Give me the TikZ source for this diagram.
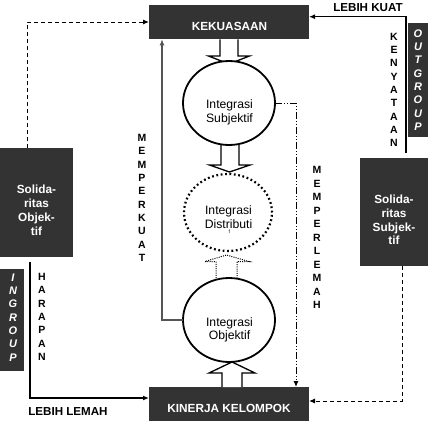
\documentclass[tikz,border=0pt]{standalone}
\usepackage{fontspec}
\setmainfont{Liberation Sans}
\usetikzlibrary{arrows.meta,calc,shapes.geometric}
\definecolor{boxgray}{HTML}{333333}
\definecolor{linegray}{HTML}{555555}
\begin{document}
\begin{tikzpicture}[x=1pt,y=-1pt,
  darkbox/.style={fill=boxgray, inner sep=0pt, outer sep=0pt},
  btext/.style={text=white, font=\fontsize{11.8}{13.7}\selectfont\bfseries, align=center, inner sep=0pt},
  ltext/.style={font=\fontsize{11.6}{13}\selectfont\bfseries, inner sep=0pt},
  vletters/.style={font=\fontsize{10.5}{13.33}\selectfont\bfseries, align=center, inner sep=0pt},
  gletters/.style={text=white, font=\fontsize{11}{13.33}\selectfont\bfseries\itshape, align=center, inner sep=0pt},
  ring/.style={ellipse, draw, line width=1.8pt, fill=white, inner sep=0pt, outer sep=0pt},
  ctext/.style={font=\fontsize{12.2}{13.5}\selectfont, align=center, inner sep=0pt},
  barrow/.style={draw, line width=1.3pt, fill=white, line join=miter},
  dbarrow/.style={draw, line width=1pt, dash pattern=on 1pt off 1.2pt, fill=white},
  conn/.style={line width=1.3pt, -{Latex[length=6pt,width=5pt]}},
  dconn/.style={conn, line width=1pt, dash pattern=on 4pt off 3pt},
  ddconn/.style={conn, line width=1pt, dash pattern=on 7pt off 2pt on 1pt off 2pt on 1pt off 2pt}
]
\fill[white] (0,0) rectangle (429,429);
\useasboundingbox (0,0) rectangle (429,429);

% dark boxes
\node[darkbox, minimum width=160pt, minimum height=34.6pt] (kek) at (229,22) {};
\node[darkbox, minimum width=160pt, minimum height=34pt] (kin) at (229,404) {};
\node[darkbox, minimum width=73pt, minimum height=109pt] (sobj) at (36.5,202.5) {};
\node[darkbox, minimum width=68pt, minimum height=108pt] (ssub) at (394,212) {};
\node[darkbox, minimum width=24pt, minimum height=102pt] (ing) at (12,320) {};
\node[darkbox, minimum width=20pt, minimum height=114pt] (outg) at (418,80) {};

\node[btext] (kekt) at (229.5,26) {KEKUASAAN};
\node[btext] (kint) at (229,408.5) {KINERJA KELOMPOK};
\node[btext] (sobjt) at (36.5,210.3) {Solida-\\ritas\\Objek-\\tif};
\node[btext] (ssubt) at (394,220) {Solida-\\ritas\\Subjek-\\tif};
\node[gletters] (ingt) at (13,317.3) {I\\N\\G\\R\\O\\U\\P};
\node[gletters] (outgt) at (418,80) {O\\U\\T\\G\\R\\O\\U\\P};

% circle positions (needed for block arrows)
\path (229,103) node[ring, draw=none, fill=none, minimum width=92pt, minimum height=84pt] (c1) {};
\path (228,212.5) node[ring, draw=none, fill=none, minimum width=88pt, minimum height=77pt] (c2) {};
\path (229,320) node[ring, draw=none, fill=none, minimum width=92pt, minimum height=84pt] (c3) {};

% block arrows
\draw[barrow] let \p1=(kek.south), \p2=(c1.north) in
  (\x1-9pt,\y1) -- (\x1-9pt,\y2+5pt) -- (\x1-20.5pt,\y2+5pt) -- (\x1,\y2-3pt)
  -- (\x1+20.5pt,\y2+5pt) -- (\x1+9pt,\y2+5pt) -- (\x1+9pt,\y1);
\draw[barrow] let \p1=(c1.south), \p2=(c2.north) in
  (\x1-8pt,\y1) -- (\x1-8pt,\y2+9pt) -- (\x1-19.5pt,\y2+9pt) -- (\x1+0.5pt,\y2+2pt)
  -- (\x1+21pt,\y2+9pt) -- (\x1+10pt,\y2+9pt) -- (\x1+10pt,\y1);
\draw[dbarrow] let \p1=(c3.north), \p2=(c2.south) in
  (\x1-13pt,\y1) -- (\x1-13pt,\y2-10.5pt) -- (\x1-24pt,\y2-10.5pt) -- (\x1-2.5pt,\y2-4pt)
  -- (\x1+20pt,\y2-10.5pt) -- (\x1+8pt,\y2-10.5pt) -- (\x1+8pt,\y1);
\draw[barrow] let \p1=(kin.north), \p2=(c3.south) in
  (\x1-7pt,\y1) -- (\x1-7pt,\y2-11pt) -- (\x1-20pt,\y2-11pt) -- (\x1+3pt,\y2)
  -- (\x1+26pt,\y2-11pt) -- (\x1+13pt,\y2-11pt) -- (\x1+13pt,\y1);

% circles
\node[ring, minimum width=92pt, minimum height=84pt] at (c1) {};
\node[ring, draw, line width=2.2pt, dash pattern=on 1.8pt off 2.6pt, minimum width=88pt, minimum height=77pt] at (c2) {};
\node[ring, minimum width=92pt, minimum height=84pt] at (c3) {};

\node[ctext] (c1t) at (229.5,112.5) {Integrasi\\Subjektif};
\node[ctext] (c2t) at (228.5,217.3) {Integrasi\\Distributi};
\node[font=\fontsize{5}{5}\selectfont, inner sep=0pt] (c2f) at (229.3,231.5) {f};
\node[ctext] (c3t) at (229.5,330) {Integrasi\\Objektif};

% connectors
\coordinate (pk) at ($(kek.south west)+(13,0)$);
\draw[conn, draw=linegray, line width=1.2pt] (c3.west) -| (pk);
\coordinate (pw) at ($(kin.north east)+(-13,0)$);
\draw[ddconn] (c1.east) -| (pw);
\coordinate (od) at ($(sobj.north west)+(27,0)$);
\draw[dconn] (od) |- (kek.west);
\coordinate (sd) at ($(ssub.south west)+(42,0)$);
\coordinate (ke) at ($(kin.east)+(0,-3)$);
\draw[dconn] (sd) |- (ke);
\coordinate (lk) at (406,153);
\coordinate (lkt) at ($(kek.north east)+(0,12)$);
\draw[conn] (lk) |- (lkt);
\coordinate (hp) at (30,262);
\coordinate (hpt) at ($(kin.south west)+(0,-23)$);
\draw[conn] (hp) |- (hpt);

% labels
\node[ltext] (lkuat) at (368,7.2) {LEBIH KUAT};
\node[ltext] (llemah) at (68,411.7) {LEBIH LEMAH};
\node[vletters] (mk) at (142,198) {M\\E\\M\\P\\E\\R\\K\\U\\A\\T};
\node[vletters, font=\fontsize{10.5}{13.5}\selectfont\bfseries] (ml) at (317,237.5) {M\\E\\M\\P\\E\\R\\L\\E\\M\\A\\H};
\node[vletters] (ky) at (394,90) {K\\E\\N\\Y\\A\\T\\A\\A\\N};
\node[vletters] (hr) at (42,317) {H\\A\\R\\A\\P\\A\\N};
\end{tikzpicture}
\end{document}
